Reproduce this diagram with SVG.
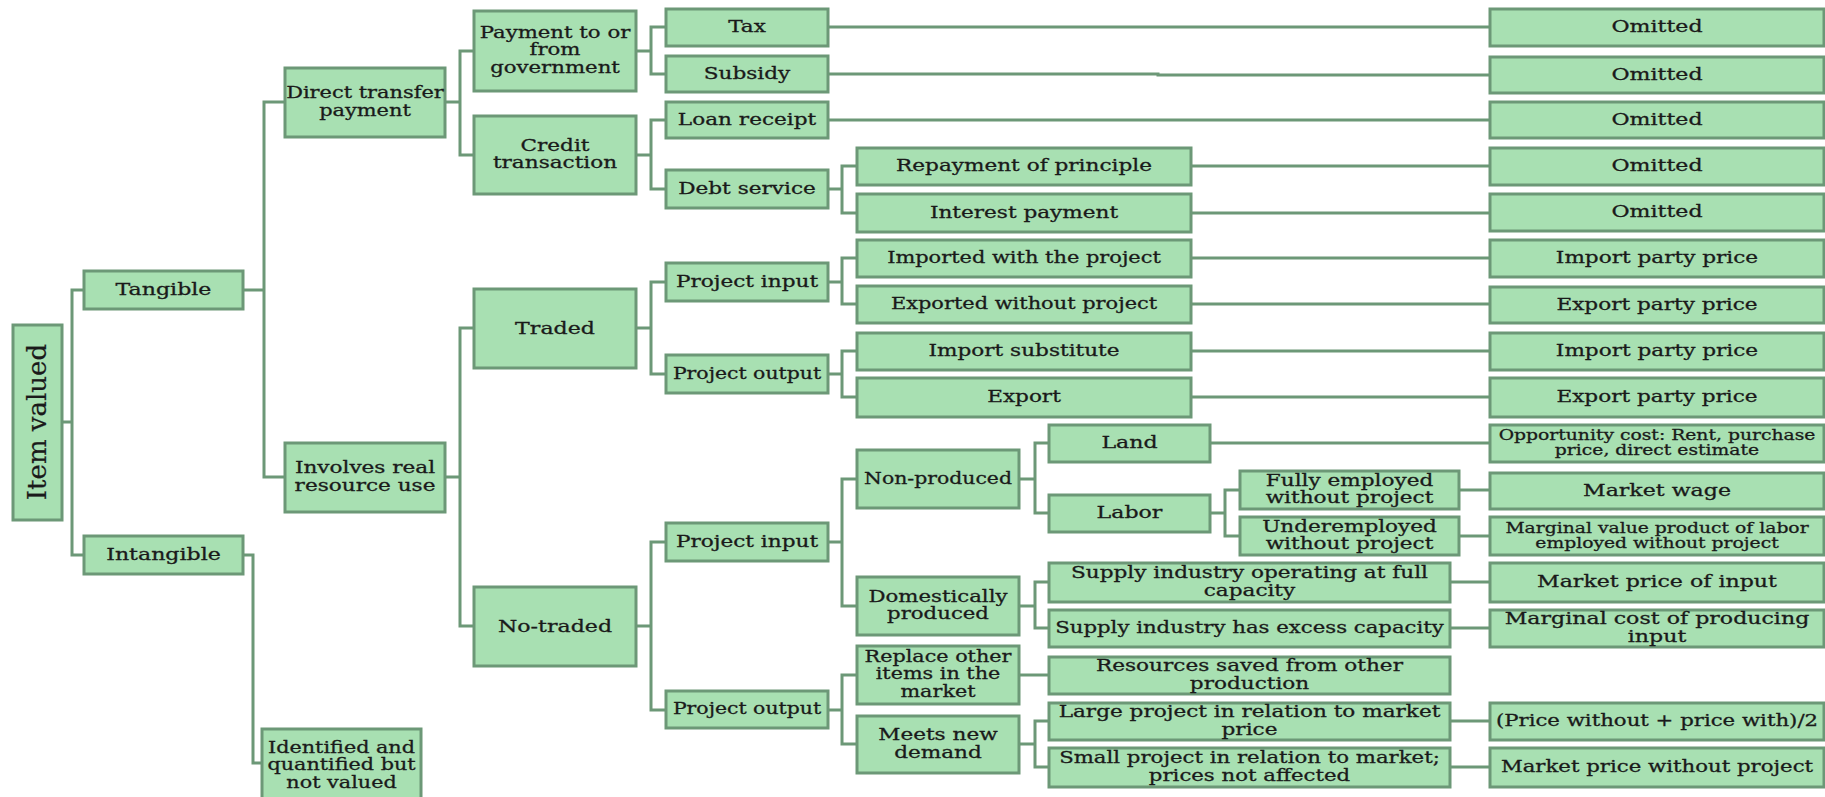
<svg xmlns="http://www.w3.org/2000/svg" width="1825" height="797" viewBox="0 0 1825 797">
<style>
.n rect{fill:#a8e0b2;stroke:#6c9877;stroke-width:3}
.n text{font-family:"DejaVu Serif","Liberation Serif",serif;font-size:17px;fill:#1a1a1a;stroke:#1a1a1a;stroke-width:0.3;text-anchor:middle}
.n text.s{font-size:15px}
.n text.big{font-size:26px;stroke-width:0.2}
#connectors path{fill:none;stroke:#6c9877;stroke-width:3}
</style>
<rect width="1825" height="797" fill="#ffffff"/>
<g id="connectors">
<path d="M62,422H72 M84,290H72V555H84"/>
<path d="M243,290H264 M285,102H264V477H285"/>
<path d="M243,555H253V763H262"/>
<path d="M445,102H460 M474,51H460V155H474"/>
<path d="M445,477H460 M474,328H460V626H474"/>
<path d="M636,51H651 M666,27H651V74H666"/>
<path d="M636,155H651 M666,120H651V189H666"/>
<path d="M636,328H651 M666,282H651V374H666"/>
<path d="M636,626H651 M666,542H651V710H666"/>
<path d="M828,189H842 M857,166H842V213H857"/>
<path d="M828,282H842 M857,258H842V304H857"/>
<path d="M828,374H842 M857,351H842V397H857"/>
<path d="M828,542H842 M857,479H842V606H857"/>
<path d="M828,710H842 M857,675H842V744H857"/>
<path d="M1019,479H1035 M1049,443H1035V513H1049"/>
<path d="M1019,606H1035 M1049,582H1035V628H1049"/>
<path d="M1019,675H1049"/>
<path d="M1019,744H1035 M1049,721H1035V767H1049"/>
<path d="M1210,513H1225 M1240,490H1225V536H1240"/>
<path d="M828,27H1490"/>
<path d="M828,74H1158V75H1490"/>
<path d="M828,120H1490"/>
<path d="M1191,166H1490"/>
<path d="M1191,213H1490"/>
<path d="M1191,258H1490"/>
<path d="M1191,304H1490"/>
<path d="M1191,351H1490"/>
<path d="M1191,397H1490"/>
<path d="M1210,443H1490"/>
<path d="M1459,490H1490"/>
<path d="M1459,536H1490"/>
<path d="M1450,582H1490"/>
<path d="M1450,628H1490"/>
<path d="M1450,721H1490"/>
<path d="M1450,767H1490"/>
</g>

<g id="n-root" class="n"><rect x="13" y="325" width="49" height="195"/><text class="big" transform="translate(46 422) rotate(-90)" x="0" y="0">Item valued</text></g>
<g id="n-tangible" class="n"><rect x="84" y="271" width="159" height="38"/><text transform="translate(163.5 0) scale(1.3 1)"><tspan x="0" y="295">Tangible</tspan></text></g>
<g id="n-intangible" class="n"><rect x="84" y="536" width="159" height="38"/><text transform="translate(163.5 0) scale(1.3 1)"><tspan x="0" y="560">Intangible</tspan></text></g>
<g id="n-direct" class="n"><rect x="285" y="68" width="160" height="69"/><text transform="translate(365 0) scale(1.23 1)"><tspan x="0" y="98.5">Direct transfer</tspan><tspan x="0" y="116">payment</tspan></text></g>
<g id="n-involves" class="n"><rect x="285" y="443" width="160" height="69"/><text transform="translate(365 0) scale(1.27 1)"><tspan x="0" y="473.5">Involves real</tspan><tspan x="0" y="491">resource use</tspan></text></g>
<g id="n-identified" class="n"><rect x="262" y="729" width="159" height="80"/><text transform="translate(341.5 0) scale(1.22 1)"><tspan x="0" y="753">Identified and</tspan><tspan x="0" y="770.5">quantified but</tspan><tspan x="0" y="788">not valued</tspan></text></g>
<g id="n-payment" class="n"><rect x="474" y="11" width="162" height="80"/><text transform="translate(555 0) scale(1.25 1)"><tspan x="0" y="38">Payment to or</tspan><tspan x="0" y="55.5">from</tspan><tspan x="0" y="73">government</tspan></text></g>
<g id="n-credit" class="n"><rect x="474" y="116" width="162" height="78"/><text transform="translate(555 0) scale(1.27 1)"><tspan x="0" y="151">Credit</tspan><tspan x="0" y="168.5">transaction</tspan></text></g>
<g id="n-traded" class="n"><rect x="474" y="289" width="162" height="79"/><text transform="translate(555 0) scale(1.3 1)"><tspan x="0" y="334">Traded</tspan></text></g>
<g id="n-notraded" class="n"><rect x="474" y="587" width="162" height="79"/><text transform="translate(555 0) scale(1.3 1)"><tspan x="0" y="632">No-traded</tspan></text></g>
<g id="n-tax" class="n"><rect x="666" y="9" width="162" height="37"/><text transform="translate(747 0) scale(1.27 1)"><tspan x="0" y="32.5">Tax</tspan></text></g>
<g id="n-subsidy" class="n"><rect x="666" y="56" width="162" height="36"/><text transform="translate(747 0) scale(1.27 1)"><tspan x="0" y="79">Subsidy</tspan></text></g>
<g id="n-loan" class="n"><rect x="666" y="102" width="162" height="36"/><text transform="translate(747 0) scale(1.27 1)"><tspan x="0" y="125">Loan receipt</tspan></text></g>
<g id="n-debt" class="n"><rect x="666" y="170" width="162" height="38"/><text transform="translate(747 0) scale(1.27 1)"><tspan x="0" y="194">Debt service</tspan></text></g>
<g id="n-repay" class="n"><rect x="857" y="148" width="334" height="37"/><text transform="translate(1024 0) scale(1.27 1)"><tspan x="0" y="171.5">Repayment of principle</tspan></text></g>
<g id="n-interest" class="n"><rect x="857" y="194" width="334" height="38"/><text transform="translate(1024 0) scale(1.27 1)"><tspan x="0" y="218">Interest payment</tspan></text></g>
<g id="n-pinput1" class="n"><rect x="666" y="263" width="162" height="38"/><text transform="translate(747 0) scale(1.27 1)"><tspan x="0" y="287">Project input</tspan></text></g>
<g id="n-imported" class="n"><rect x="857" y="240" width="334" height="37"/><text transform="translate(1024 0) scale(1.23 1)"><tspan x="0" y="263.5">Imported with the project</tspan></text></g>
<g id="n-exported" class="n"><rect x="857" y="286" width="334" height="37"/><text transform="translate(1024 0) scale(1.23 1)"><tspan x="0" y="309.5">Exported without project</tspan></text></g>
<g id="n-poutput1" class="n"><rect x="666" y="355" width="162" height="38"/><text transform="translate(747 0) scale(1.2 1)"><tspan x="0" y="379">Project output</tspan></text></g>
<g id="n-importsub" class="n"><rect x="857" y="333" width="334" height="37"/><text transform="translate(1024 0) scale(1.27 1)"><tspan x="0" y="356.5">Import substitute</tspan></text></g>
<g id="n-export" class="n"><rect x="857" y="378" width="334" height="39"/><text transform="translate(1024 0) scale(1.27 1)"><tspan x="0" y="402.5">Export</tspan></text></g>
<g id="n-pinput2" class="n"><rect x="666" y="523" width="162" height="38"/><text transform="translate(747 0) scale(1.27 1)"><tspan x="0" y="547">Project input</tspan></text></g>
<g id="n-poutput2" class="n"><rect x="666" y="691" width="162" height="37"/><text transform="translate(747 0) scale(1.2 1)"><tspan x="0" y="714.5">Project output</tspan></text></g>
<g id="n-nonprod" class="n"><rect x="857" y="450" width="162" height="58"/><text transform="translate(938 0) scale(1.2 1)"><tspan x="0" y="484">Non-produced</tspan></text></g>
<g id="n-domestic" class="n"><rect x="857" y="577" width="162" height="58"/><text transform="translate(938 0) scale(1.25 1)"><tspan x="0" y="602">Domestically</tspan><tspan x="0" y="619.5">produced</tspan></text></g>
<g id="n-replace" class="n"><rect x="857" y="646" width="162" height="58"/><text transform="translate(938 0) scale(1.22 1)"><tspan x="0" y="662">Replace other</tspan><tspan x="0" y="679.5">items in the</tspan><tspan x="0" y="697">market</tspan></text></g>
<g id="n-meets" class="n"><rect x="857" y="716" width="162" height="57"/><text transform="translate(938 0) scale(1.27 1)"><tspan x="0" y="740.5">Meets new</tspan><tspan x="0" y="758">demand</tspan></text></g>
<g id="n-land" class="n"><rect x="1049" y="425" width="161" height="37"/><text transform="translate(1129.5 0) scale(1.3 1)"><tspan x="0" y="448.5">Land</tspan></text></g>
<g id="n-labor" class="n"><rect x="1049" y="495" width="161" height="37"/><text transform="translate(1129.5 0) scale(1.3 1)"><tspan x="0" y="518.5">Labor</tspan></text></g>
<g id="n-fully" class="n"><rect x="1240" y="471" width="219" height="38"/><text transform="translate(1349.5 0) scale(1.27 1)"><tspan x="0" y="486">Fully employed</tspan><tspan x="0" y="503.5">without project</tspan></text></g>
<g id="n-under" class="n"><rect x="1240" y="517" width="219" height="38"/><text transform="translate(1349.5 0) scale(1.27 1)"><tspan x="0" y="532">Underemployed</tspan><tspan x="0" y="549.5">without project</tspan></text></g>
<g id="n-supplyfull" class="n"><rect x="1049" y="563" width="401" height="39"/><text transform="translate(1249.5 0) scale(1.27 1)"><tspan x="0" y="578.5">Supply industry operating at full</tspan><tspan x="0" y="596">capacity</tspan></text></g>
<g id="n-supplyexcess" class="n"><rect x="1049" y="610" width="401" height="37"/><text transform="translate(1249.5 0) scale(1.25 1)"><tspan x="0" y="633.5">Supply industry has excess capacity</tspan></text></g>
<g id="n-resources" class="n"><rect x="1049" y="657" width="401" height="37"/><text transform="translate(1249.5 0) scale(1.27 1)"><tspan x="0" y="671.5">Resources saved from other</tspan><tspan x="0" y="689">production</tspan></text></g>
<g id="n-large" class="n"><rect x="1049" y="703" width="401" height="37"/><text transform="translate(1249.5 0) scale(1.27 1)"><tspan x="0" y="717.5">Large project in relation to market</tspan><tspan x="0" y="735">price</tspan></text></g>
<g id="n-small" class="n"><rect x="1049" y="748" width="401" height="39"/><text transform="translate(1249.5 0) scale(1.25 1)"><tspan x="0" y="763.5">Small project in relation to market;</tspan><tspan x="0" y="781">prices not affected</tspan></text></g>

<g id="n-om1" class="n"><rect x="1490" y="9" width="334" height="37"/><text transform="translate(1657 0) scale(1.3 1)"><tspan x="0" y="32.5">Omitted</tspan></text></g>
<g id="n-om2" class="n"><rect x="1490" y="57" width="334" height="36"/><text transform="translate(1657 0) scale(1.3 1)"><tspan x="0" y="80">Omitted</tspan></text></g>
<g id="n-om3" class="n"><rect x="1490" y="102" width="334" height="36"/><text transform="translate(1657 0) scale(1.3 1)"><tspan x="0" y="125">Omitted</tspan></text></g>
<g id="n-om4" class="n"><rect x="1490" y="148" width="334" height="37"/><text transform="translate(1657 0) scale(1.3 1)"><tspan x="0" y="171.5">Omitted</tspan></text></g>
<g id="n-om5" class="n"><rect x="1490" y="194" width="334" height="37"/><text transform="translate(1657 0) scale(1.3 1)"><tspan x="0" y="217.5">Omitted</tspan></text></g>
<g id="n-imp1" class="n"><rect x="1490" y="240" width="334" height="37"/><text transform="translate(1657 0) scale(1.27 1)"><tspan x="0" y="263.5">Import party price</tspan></text></g>
<g id="n-exp1" class="n"><rect x="1490" y="287" width="334" height="36"/><text transform="translate(1657 0) scale(1.27 1)"><tspan x="0" y="310">Export party price</tspan></text></g>
<g id="n-imp2" class="n"><rect x="1490" y="333" width="334" height="37"/><text transform="translate(1657 0) scale(1.27 1)"><tspan x="0" y="356.5">Import party price</tspan></text></g>
<g id="n-exp2" class="n"><rect x="1490" y="378" width="334" height="39"/><text transform="translate(1657 0) scale(1.27 1)"><tspan x="0" y="402.5">Export party price</tspan></text></g>
<g id="n-opp" class="n"><rect x="1490" y="425" width="334" height="37"/><text class="s" transform="translate(1657 0) scale(1.25 1)"><tspan x="0" y="440.5">Opportunity cost: Rent, purchase</tspan><tspan x="0" y="455.5">price, direct estimate</tspan></text></g>
<g id="n-wage" class="n"><rect x="1490" y="473" width="334" height="36"/><text transform="translate(1657 0) scale(1.3 1)"><tspan x="0" y="496">Market wage</tspan></text></g>
<g id="n-mvp" class="n"><rect x="1490" y="517" width="334" height="38"/><text class="s" transform="translate(1657 0) scale(1.25 1)"><tspan x="0" y="533">Marginal value product of labor</tspan><tspan x="0" y="548">employed without project</tspan></text></g>
<g id="n-mpi" class="n"><rect x="1490" y="563" width="334" height="39"/><text transform="translate(1657 0) scale(1.3 1)"><tspan x="0" y="587.5">Market price of input</tspan></text></g>
<g id="n-mcp" class="n"><rect x="1490" y="610" width="334" height="37"/><text transform="translate(1657 0) scale(1.3 1)"><tspan x="0" y="624.5">Marginal cost of producing</tspan><tspan x="0" y="642">input</tspan></text></g>
<g id="n-avg" class="n"><rect x="1490" y="703" width="334" height="37"/><text transform="translate(1657 0) scale(1.25 1)"><tspan x="0" y="726.5">(Price without + price with)/2</tspan></text></g>
<g id="n-mpw" class="n"><rect x="1490" y="748" width="334" height="39"/><text transform="translate(1657 0) scale(1.25 1)"><tspan x="0" y="772.5">Market price without project</tspan></text></g>
</svg>
